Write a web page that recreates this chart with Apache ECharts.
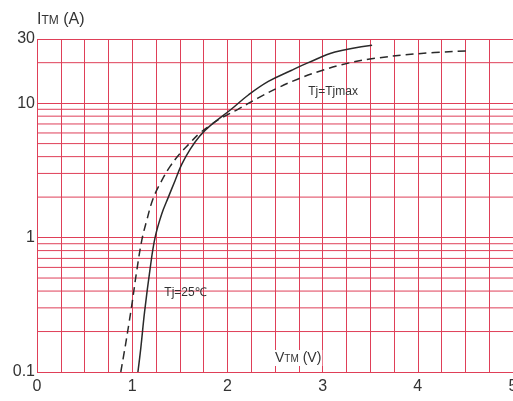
<!DOCTYPE html>
<html><head><meta charset="utf-8">
<script src="https://cdn.jsdelivr.net/npm/echarts@6/dist/echarts.min.js"></script>
<style>html,body{margin:0;padding:0;background:#fff}#c{width:513px;height:401px}</style>
</head><body><div id="c"></div>
<script>
// X axis: forward voltage VTM (V)
const xMin = 0, xMax = 5, xGridStep = 0.25;
// Y axis: on-state current ITM (A), log scale
const yMin = 0.1, yMax = 30;
const yMinorGrid = [0.2,0.3,0.4,0.5,0.6,0.7,0.8,0.9,2,3,4,5,6,7,8,9,20];

// Tj = 25 ℃ (solid)
const v25 = [1.06,1.09,1.13,1.19,1.24,1.31,1.38,1.45,1.52,1.61,1.71,1.82,2.04,2.22,2.43,2.67,2.85,3.13,3.52];
const i25 = [0.1,0.15,0.28,0.60,1.0,1.5,2.0,2.65,3.5,4.55,5.7,6.8,9.0,11.5,14.5,17.5,20,24,27];
// Tj = Tjmax (dashed)
const vMax = [0.88,0.93,0.97,1.00,1.05,1.10,1.15,1.22,1.31,1.40,1.50,1.60,1.70,1.82,1.93,2.11,2.32,2.53,2.75,2.96,3.2,3.48,4.0,4.54];
const iMax = [0.1,0.16,0.24,0.33,0.58,0.95,1.32,1.95,2.65,3.4,4.2,5.0,5.9,6.85,7.7,9.0,10.9,13.0,15.2,17.2,19.3,21.2,23.3,24.5];

const label25 = {text: 'Tj=25℃', v: 1.56, i: 0.39};
const labelMax = {text: 'Tj=Tjmax', v: 3.11, i: 12.1};

const gridColor = '#df3f58';
const inkColor = '#2a2a2a';
const font = 'Liberation Sans, Arial, sans-serif';

const gridSeries = yMinorGrid.map(y => ({
  type: 'line', z: 1, silent: true, showSymbol: false, symbol: 'none',
  data: [[xMin, y], [xMax, y]],
  lineStyle: {color: gridColor, width: 1},
  emphasis: {disabled: true}
}));

const chart = echarts.init(document.getElementById('c'));
chart.setOption({
  animation: false,
  backgroundColor: '#fff',
  textStyle: {fontFamily: font},
  grid: {left: 37, right: 0, top: 39, bottom: 29, outerBoundsMode: 'none'},
  xAxis: {
    type: 'value', min: xMin, max: xMax, interval: xGridStep,
    axisLine: {show: false}, axisTick: {show: false},
    splitLine: {show: true, lineStyle: {color: gridColor, width: 1}},
    axisLabel: {
      color: '#333', fontSize: 16, margin: 7, fontFamily: font,
      formatter: v => (Math.abs(v - Math.round(v)) < 1e-9 ? String(Math.round(v)) : '')
    },
    name: '{v|V}{s|TM}{v| (V)}',
    nameLocation: 'middle', nameGap: -22,
    nameTextStyle: {
      align: 'left', backgroundColor: '#fff', padding: [1, 1, 1, 0],
      rich: {
        v: {fontSize: 14, color: '#333', fontFamily: font},
        s: {fontSize: 10, color: '#333', fontFamily: font, verticalAlign: 'bottom', padding: [0, 0, 1, 0]}
      }
    }
  },
  yAxis: {
    type: 'log', logBase: 10, min: yMin, max: yMax,
    axisLine: {show: false}, axisTick: {show: false},
    splitLine: {show: true, lineStyle: {color: gridColor, width: 1}},
    axisLabel: {color: '#333', fontSize: 16, margin: 2, fontFamily: font, formatter: v => String(v)},
    name: '{v|I}{s|TM}{v| (A)}',
    nameLocation: 'end', nameGap: 11,
    nameTextStyle: {
      align: 'left',
      rich: {
        v: {fontSize: 16, color: '#333', fontFamily: font},
        s: {fontSize: 12, color: '#333', fontFamily: font, verticalAlign: 'bottom', padding: [0, 0, 1, 0]}
      }
    }
  },
  series: gridSeries.concat([
    {
      name: label25.text, type: 'line', z: 3, showSymbol: false, symbol: 'none',
      smooth: 0.4,
      data: v25.map((v, k) => [v, i25[k]]),
      lineStyle: {color: inkColor, width: 1.5, type: 'solid'},
      markPoint: {
        symbol: 'circle', symbolSize: 0, silent: true,
        label: {show: true, position: 'inside', color: '#333', fontSize: 12, fontFamily: font, formatter: label25.text},
        data: [{coord: [label25.v, label25.i]}]
      }
    },
    {
      name: labelMax.text, type: 'line', z: 3, showSymbol: false, symbol: 'none',
      smooth: 0.4,
      data: vMax.map((v, k) => [v, iMax[k]]),
      lineStyle: {color: inkColor, width: 1.5, type: [8, 5]},
      markPoint: {
        symbol: 'circle', symbolSize: 0, silent: true,
        label: {show: true, position: 'inside', color: '#333', fontSize: 12, fontFamily: font, formatter: labelMax.text},
        data: [{coord: [labelMax.v, labelMax.i]}]
      }
    }
  ])
});
</script>
</body></html>
